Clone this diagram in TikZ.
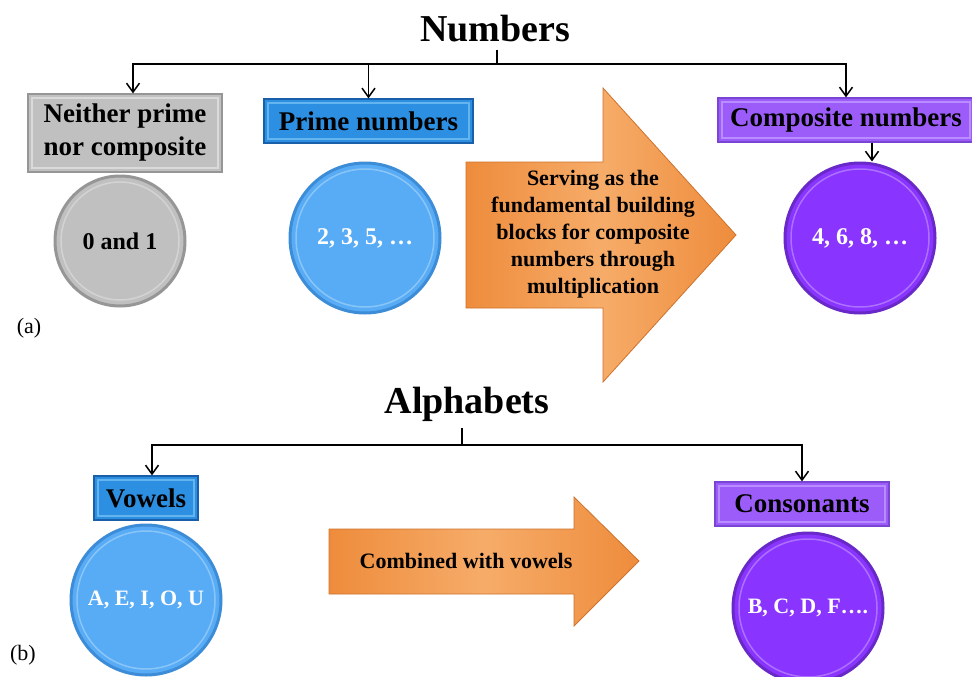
\documentclass[tikz,border=0pt]{standalone}
\usepackage{fontspec}
\setmainfont{Liberation Serif}
\usetikzlibrary{arrows.meta,calc}
\definecolor{grayF}{RGB}{192,192,192}
\definecolor{grayD}{RGB}{150,150,150}
\definecolor{grayL}{RGB}{218,218,218}
\definecolor{blueBox}{RGB}{44,143,226}
\definecolor{blueBoxD}{RGB}{25,95,170}
\definecolor{blueBoxL}{RGB}{100,180,240}
\definecolor{blueC}{RGB}{88,172,245}
\definecolor{blueCD}{RGB}{60,140,215}
\definecolor{purBox}{RGB}{156,92,250}
\definecolor{purBoxD}{RGB}{120,70,210}
\definecolor{purBoxL}{RGB}{185,140,255}
\definecolor{purC}{RGB}{138,52,255}
\definecolor{purCD}{RGB}{105,40,200}
\definecolor{orM}{RGB}{238,140,60}
\definecolor{orL}{RGB}{246,172,105}
\definecolor{orD}{RGB}{205,115,45}
\begin{document}
\begin{tikzpicture}[x=1pt,y=-1pt,
  title/.style={font=\bfseries\fontsize{38}{40}\selectfont, inner sep=0pt},
  bx/.style n args={3}{fill=#1, draw=#2, line width=1.2pt, inner sep=0pt,
    font=\bfseries\fontsize{27}{33}\selectfont, align=center,
    path picture={\draw[#3, line width=1.5pt]
      ([shift={(4pt,-4pt)}]path picture bounding box.north west) rectangle
      ([shift={(-4pt,4pt)}]path picture bounding box.south east);}},
  circ/.style n args={3}{circle, inner sep=0pt, minimum size=#3, fill=#1, draw=#2,
    line width=3pt, text=white, font=\bfseries\fontsize{24}{28}\selectfont,
    path picture={\draw[white, opacity=.3, line width=1.5pt]
      (path picture bounding box.center) circle[radius=#3/2-6pt];}},
  conn/.style={line width=1.5pt, -{Straight Barb[length=9pt,width=13pt]}},
  plain/.style={line width=1.5pt},
  orarrow/.style={left color=orM, right color=orM, middle color=orL, draw=orD, line width=0.8pt},
  arrtext/.style={font=\bfseries\fontsize{22}{27}\selectfont, align=center, inner sep=0pt},
  lab/.style={font=\fontsize{22}{26}\selectfont, inner sep=0pt}
]
\useasboundingbox (0,0) rectangle (972,677);

% ---------- (a) Numbers ----------
\node[title, anchor=base] (numT) at (495,42) {Numbers};
\coordinate (hubA) at (497,64);

\node[bx={grayF}{grayD}{grayL}, minimum width=194pt, minimum height=78pt] (neither) at (125,133) {Neither prime\\nor composite};
\node[circ={grayF}{grayD}{130pt}, text=black] (neitherC) at (120,241) {0 and 1};

\node[bx={blueBox}{blueBoxD}{blueBoxL}, minimum width=209pt, minimum height=44pt] (prime) at (368.5,121) {Prime numbers};
\node[circ={blueC}{blueCD}{150pt}] (primeC) at (365,238) {2, 3, 5, \dots};

\node[bx={purBox}{purBoxD}{purBoxL}, minimum width=256pt, minimum height=44pt] (comp) at (846,120) {Composite numbers};
\node[circ={purC}{purCD}{150pt}] (compC) at (860,238) {4, 6, 8, \dots};

\draw[orarrow]
  (466,162) -- (603,162) -- (603,88) -- (736,235) -- (603,382) -- (603,308) -- (466,308) -- cycle;
\node[arrtext] (arrA) at (593,234) {Serving as the\\fundamental building\\blocks for composite\\numbers through\\multiplication};

\draw[plain] ([yshift=-7pt]numT.south -| hubA) -- (hubA);
\draw[conn] (hubA) -| ([xshift=8pt]neither.north);
\draw[conn] (hubA) -| (prime.north);
\draw[conn] (hubA) -| (comp.north);
\draw[conn] ([xshift=26pt]comp.south) -- ([xshift=26pt]comp.south |- compC.north);

\node[lab] (labA) at (29,328) {(a)};

% ---------- (b) Alphabets ----------
\node[title, anchor=base] (alphT) at (467,413) {Alphabets};
\coordinate (hubB) at (462,445);

\node[bx={blueBox}{blueBoxD}{blueBoxL}, minimum width=104pt, minimum height=44pt] (vowel) at (146,498) {Vowels};
\node[circ={blueC}{blueCD}{150pt}, font=\bfseries\fontsize{22}{26}\selectfont] (vowelC) at (146,600) {A, E, I, O, U};

\node[bx={purBox}{purBoxD}{purBoxL}, minimum width=174pt, minimum height=44pt] (cons) at (802,504) {Consonants};
\node[circ={purC}{purCD}{150pt}, font=\bfseries\fontsize{22}{26}\selectfont] (consC) at (808,608) {B, C, D, F\dots.};

\draw[orarrow]
  (329,529) -- (574,529) -- (574,497) -- (639,561) -- (574,626) -- (574,594) -- (329,594) -- cycle;
\node[arrtext] (arrB) at (466,561) {Combined with vowels};

\draw[plain] ([yshift=-7pt]alphT.south -| hubB) -- (hubB);
\draw[conn] (hubB) -| ([xshift=6pt]vowel.north);
\draw[conn] (hubB) -| (cons.north);

\node[lab] (labB) at (23,655) {(b)};
\end{tikzpicture}
\end{document}
